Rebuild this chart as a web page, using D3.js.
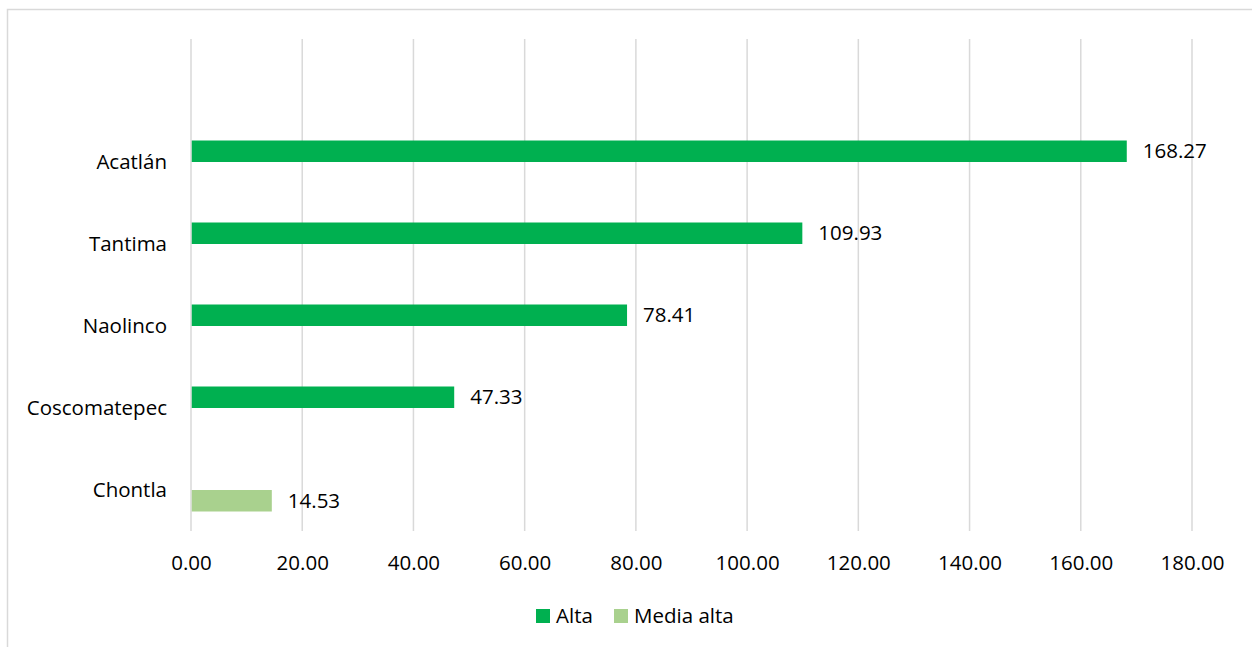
<!DOCTYPE html>
<html>
<head>
<meta charset="utf-8">
<script src="https://cdn.jsdelivr.net/npm/d3@7"></script>
<style>
  html, body { margin: 0; padding: 0; background: #fff; }
  svg { display: block; }
  text { font-family: "Open Sans", Lato, sans-serif; fill: #000; }
</style>
</head>
<body>
<svg id="chart" width="1252" height="647"></svg>
<script>
// Data
const categories = ["Chontla", "Coscomatepec", "Naolinco", "Tantima", "Acatlán", ""];
const seriesNames = ["Alta", "Media alta"];
const altaValues = [null, 47.33, 78.41, 109.93, 168.27, null];
const mediaAltaValues = [14.53, null, null, null, null, null];
const xTicks = [0, 20, 40, 60, 80, 100, 120, 140, 160, 180];
const colors = ["#00B050", "#A9D18E"];

const FONT = "'Open Sans', Lato, sans-serif";
const FS = 20.5;

const svg = d3.select("#chart");
const W = 1252, H = 647;

// outer chart border
svg.append("rect")
  .attr("x", 7.5).attr("y", 9.5)
  .attr("width", W + 10).attr("height", H + 10)
  .attr("fill", "none").attr("stroke", "#D9D9D9").attr("stroke-width", 1.5);

const x = d3.scaleLinear().domain([0, 180]).range([191, 1192]);
const y = d3.scaleBand().domain(categories).range([531, 39]).paddingInner(0).paddingOuter(0);
const sub = d3.scaleBand().domain(seriesNames).range([0, 43]);

// gridlines
svg.append("g")
  .selectAll("line")
  .data(xTicks)
  .join("line")
  .attr("x1", d => x(d)).attr("x2", d => x(d))
  .attr("y1", 39).attr("y2", 531)
  .attr("stroke", "#D9D9D9").attr("stroke-width", 1.5);

// x axis tick labels
const xAxis = d3.axisBottom(x).tickValues(xTicks).tickFormat(d3.format(".2f")).tickSize(0).tickPadding(0);
const gx = svg.append("g").attr("transform", "translate(0,570)").call(xAxis);
gx.select(".domain").remove();
gx.selectAll("text").attr("font-size", FS).attr("font-family", FONT).attr("fill", "#000").attr("dy", 0);

// y axis labels
const yAxis = d3.axisLeft(y).tickSize(0).tickPadding(0);
const gy = svg.append("g").attr("transform", "translate(167,0)").call(yAxis);
gy.select(".domain").remove();
gy.selectAll("text").attr("font-size", FS).attr("font-family", FONT).attr("fill", "#000").attr("dy", "0.32em");

// bars
const seriesData = [altaValues, mediaAltaValues];
seriesData.forEach((vals, si) => {
  const rows = categories.map((c, i) => ({ c, v: vals[i] })).filter(d => d.v != null);
  const g = svg.append("g");
  const yc = d => y(d.c) + y.bandwidth() / 2 - 21.5 + sub(seriesNames[si]);
  g.selectAll("rect")
    .data(rows)
    .join("rect")
    .attr("x", x(0) + 0.75)
    .attr("y", yc)
    .attr("width", d => x(d.v) - x(0) - 0.75)
    .attr("height", sub.bandwidth())
    .attr("fill", colors[si]);
  g.selectAll("text")
    .data(rows)
    .join("text")
    .attr("x", d => x(d.v) + 16)
    .attr("y", d => yc(d) + sub.bandwidth() / 2)
    .attr("dy", "0.35em")
    .attr("font-size", FS)
    .attr("font-family", FONT)
    .text(d => d3.format(".2f")(d.v));
});

// legend
const legend = svg.append("g");
const legendItems = [
  { name: seriesNames[0], color: colors[0], x: 536 },
  { name: seriesNames[1], color: colors[1], x: 614 }
];
legendItems.forEach(it => {
  legend.append("rect").attr("x", it.x).attr("y", 609).attr("width", 14).attr("height", 14).attr("fill", it.color);
  legend.append("text").attr("x", it.x + 20).attr("y", 616).attr("dy", "0.35em")
    .attr("font-size", FS).attr("font-family", FONT).text(it.name);
});
</script>
</body>
</html>
